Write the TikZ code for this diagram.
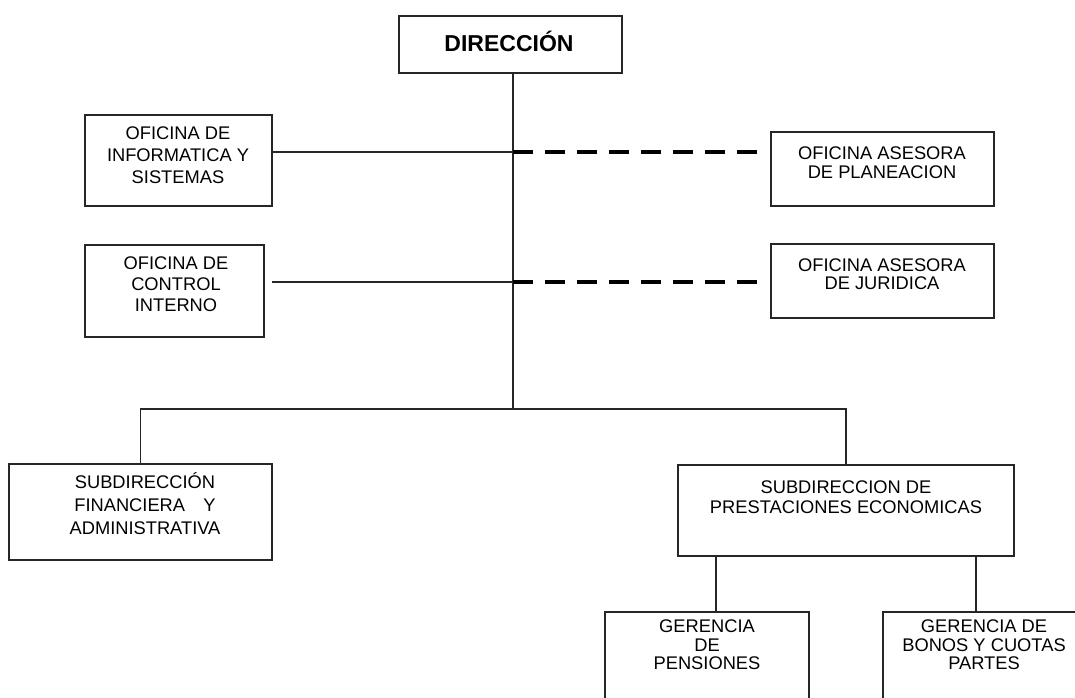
\documentclass[tikz,border=0pt]{standalone}
\usepackage{fontspec}
\setmainfont{Liberation Sans}
\begin{document}
\begin{tikzpicture}[x=1pt,y=-1pt,
  orgbox/.style={draw=black!85, line width=1.7pt, inner sep=0pt, fill=white},
  orgtxt/.style={align=center, inner sep=0pt, text=black, font=\fontsize{18}{21}\selectfont},
  link/.style={draw=black!85, line width=1.7pt},
  dlink/.style={draw=black, line width=4pt, dash pattern=on 20pt off 12pt}]
\useasboundingbox (0,0) rectangle (1075,697);
\clip (0,0) rectangle (1075,697);
\fill[white] (0,0) rectangle (1075,697);

% boxes
\node[orgbox, minimum width=223pt, minimum height=57pt] (dir) at (510.5,44.5) {};
\node[orgbox, minimum width=187pt, minimum height=91pt] (inf) at (178.5,160.5) {};
\node[orgbox, minimum width=179pt, minimum height=92pt] (ctl) at (174.5,291) {};
\node[orgbox, minimum width=223pt, minimum height=74pt] (plan) at (882.5,169) {};
\node[orgbox, minimum width=223pt, minimum height=74pt] (jur) at (882.5,281) {};
\node[orgbox, minimum width=263pt, minimum height=96pt] (fin) at (140.5,512) {};
\node[orgbox, minimum width=336pt, minimum height=91pt] (pre) at (846,510.5) {};
\node[orgbox, minimum width=204pt, minimum height=118pt] (pen) at (707,671) {};
\node[orgbox, minimum width=207pt, minimum height=118pt] (bon) at (986.5,671) {};

% texts
\node[orgtxt, font=\bfseries\fontsize{23}{27}\selectfont] (dirt) at (509,41) {DIRECCIÓN};
\node[orgtxt, font=\fontsize{18.3}{22}\selectfont] (inft) at (178,155) {OFICINA DE\\INFORMATICA Y\\SISTEMAS};
\node[orgtxt, font=\fontsize{18.3}{21}\selectfont] (ctlt) at (176,284) {OFICINA DE\\CONTROL\\INTERNO};
\node[orgtxt, font=\fontsize{18.3}{19}\selectfont] (plant) at (882,162.5) {OFICINA ASESORA\\DE PLANEACION};
\node[orgtxt, font=\fontsize{18.3}{18.5}\selectfont] (jurt) at (882,274) {OFICINA ASESORA\\DE JURIDICA};
\node[orgtxt, font=\fontsize{18.3}{23}\selectfont] (fint) at (145,504) {SUBDIRECCIÓN\\FINANCIERA\quad Y\\ADMINISTRATIVA};
\node[orgtxt, font=\fontsize{18.3}{20}\selectfont] (pret) at (846,497) {SUBDIRECCION DE\\PRESTACIONES ECONOMICAS};
\node[orgtxt, font=\fontsize{18.3}{18.5}\selectfont] (pent) at (707,645) {GERENCIA\\DE\\PENSIONES};
\node[orgtxt, font=\fontsize{18.3}{18.5}\selectfont] (bont) at (984,645) {GERENCIA DE\\BONOS Y CUOTAS\\PARTES};

% connectors
\coordinate (m) at (513,409);
\coordinate (j1) at (513,152);
\coordinate (j2) at (513,282);
\coordinate (p1) at (716,0);
\coordinate (p2) at (976,0);
\draw[link] (dir.south -| m) -- (m);
\draw[link] (fin.north) -- (fin.north |- m) -- (pre.north |- m) -- (pre.north);
\draw[link] (inf.east |- j1) -- (j1);
\draw[link, shorten <=7pt] (ctl.east |- j2) -- (j2);
\draw[dlink, shorten >=13pt] (j1) -- (plan.west |- j1);
\draw[dlink, shorten >=13pt] (j2) -- (jur.west |- j2);
\draw[link] (pre.south -| p1) -- (pen.north -| p1);
\draw[link] (pre.south -| p2) -- (bon.north -| p2);
\end{tikzpicture}
\end{document}
